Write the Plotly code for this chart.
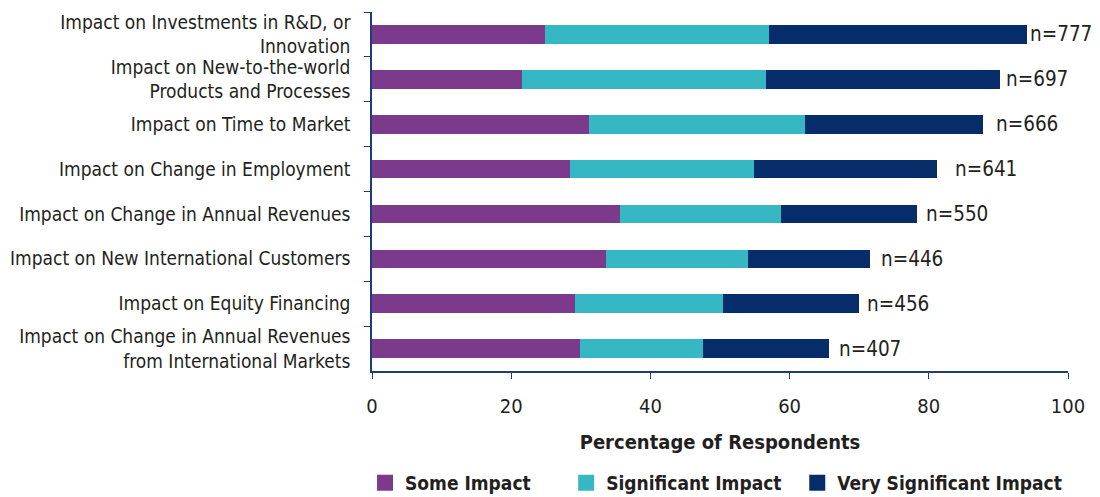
#!/usr/bin/env python3

import plotly.graph_objects as go

categories = [
    "Impact on Investments in R&D, or<br>Innovation",
    "Impact on New-to-the-world<br>Products and Processes",
    "Impact on Time to Market",
    "Impact on Change in Employment",
    "Impact on Change in Annual Revenues",
    "Impact on New International Customers",
    "Impact on Equity Financing",
    "Impact on Change in Annual Revenues<br>from International Markets",
]
some_impact = [24.9, 21.6, 31.2, 28.4, 35.6, 33.6, 29.2, 29.9]
significant_impact = [32.1, 35.0, 31.0, 26.5, 23.2, 20.4, 21.3, 17.7]
very_significant_impact = [37.1, 33.7, 25.6, 26.3, 19.5, 17.6, 19.4, 18.0]
n_labels = ["n=777", "n=697", "n=666", "n=641", "n=550", "n=446", "n=456", "n=407"]

# gap (px) between bar end and its n= label, as seen in the original
label_gaps = [1, 4, 11, 16, 7, 9, 6, 8]

FONT = "DejaVu Sans Condensed, Roboto, sans-serif"
TXT = "#231f20"
AXIS = "#1f3c7a"

series = [
    ("Some Impact", some_impact, "#7b3a8c"),
    ("Significant Impact", significant_impact, "#36b7c4"),
    ("Very Significant Impact", very_significant_impact, "#062d6a"),
]
legend_ids = ["legend", "legend2", "legend3"]
legend_x = [-0.010, 0.279, 0.611]

fig = go.Figure()
for (name, vals, color), lid in zip(series, legend_ids):
    fig.add_trace(go.Bar(y=categories, x=vals, orientation="h", name=name,
                         marker=dict(color=color, line=dict(width=0)),
                         width=0.415, showlegend=False, hoverinfo="x+name"))
    # square legend swatch
    fig.add_trace(go.Scatter(x=[None], y=[None], mode="markers", name=name, legend=lid,
                             marker=dict(symbol="square", size=21, color=color)))

totals = [a + b + c for a, b, c in zip(some_impact, significant_impact, very_significant_impact)]
for cat, tot, lab, gap in zip(categories, totals, n_labels, label_gaps):
    fig.add_annotation(x=tot, y=cat, text=lab, showarrow=False, xanchor="left",
                       xshift=gap, font=dict(family=FONT, size=20.5, color=TXT))

fig.update_xaxes(range=[0, 100], dtick=20, showline=True, linecolor=AXIS, linewidth=1.5,
                 ticks="outside", tickcolor=AXIS, ticklen=6, showgrid=False, zeroline=False,
                 automargin=False, ticklabelstandoff=10,
                 tickfont=dict(family=FONT, size=20, color=TXT),
                 title=dict(text="<b>Percentage of Respondents</b>", standoff=18,
                            font=dict(family=FONT, size=20, color=TXT)))
fig.update_yaxes(autorange="reversed", showline=True, linecolor=AXIS, linewidth=1.5,
                 ticks="outside", tickson="boundaries", tickcolor=AXIS, ticklen=6,
                 showgrid=False, ticklabelstandoff=16, automargin=False,
                 tickfont=dict(family=FONT, size=19, color=TXT))

leg = dict(orientation="h", xanchor="left", y=-0.308, yanchor="middle",
           itemsizing="trace", font=dict(family=FONT, size=19, color=TXT, weight="bold"))

fig.update_layout(
    barmode="stack", width=1100, height=497, bargap=0.6,
    margin=dict(l=364, r=40, t=4, b=133),
    paper_bgcolor="white", plot_bgcolor="white",
    font=dict(family=FONT, color=TXT),
    legend=dict(leg, x=legend_x[0]),
    legend2=dict(leg, x=legend_x[1]),
    legend3=dict(leg, x=legend_x[2]),
)

fig.write_html("out.html")
